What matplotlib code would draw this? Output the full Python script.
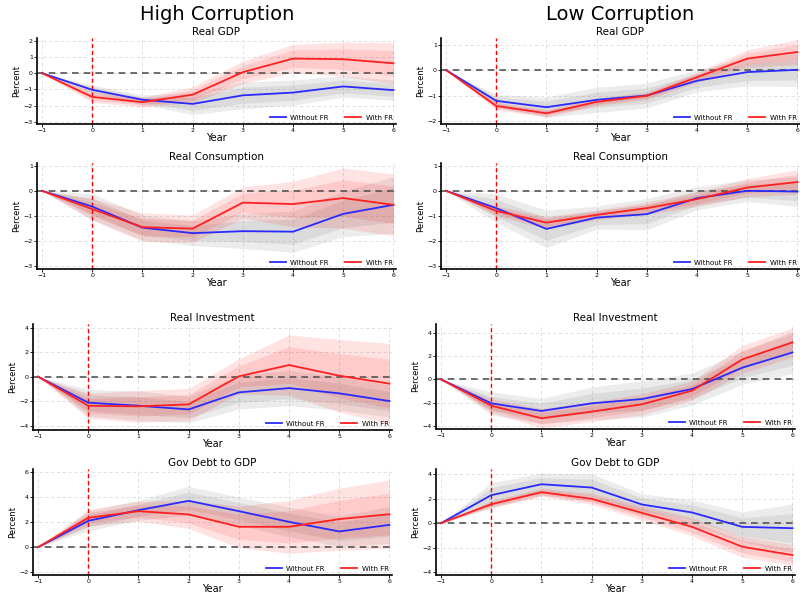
import numpy as np
import matplotlib
matplotlib.use("Agg")
import matplotlib.pyplot as plt

plt.rcParams['font.family'] = ['DejaVu Sans']

# horizon (years)
years = [-1, 0, 1, 2, 3, 4, 5, 6]

# High corruption: point estimates and standard errors
hc_gdp_wo = [0, -1.03, -1.64, -1.90, -1.37, -1.20, -0.82, -1.05]
hc_gdp_wo_se = [0, 0.18, 0.18, 0.40, 0.50, 0.47, 0.40, 0.38]
hc_gdp_w = [0, -1.47, -1.79, -1.33, 0.06, 0.90, 0.86, 0.61]
hc_gdp_w_se = [0, 0.20, 0.18, 0.30, 0.42, 0.53, 0.64, 0.78]

hc_cons_wo = [0, -0.63, -1.47, -1.69, -1.61, -1.63, -0.92, -0.56]
hc_cons_wo_se = [0, 0.32, 0.30, 0.30, 0.42, 0.50, 0.55, 0.69]
hc_cons_w = [0, -0.73, -1.45, -1.51, -0.47, -0.53, -0.29, -0.56]
hc_cons_w_se = [0, 0.26, 0.35, 0.33, 0.38, 0.55, 0.73, 0.75]

hc_inv_wo = [0, -2.12, -2.37, -2.67, -1.28, -0.93, -1.36, -1.99]
hc_inv_wo_se = [0, 0.66, 0.73, 0.66, 0.83, 0.87, 0.83, 0.79]
hc_inv_w = [0, -2.37, -2.42, -2.26, 0.03, 0.95, 0.08, -0.57]
hc_inv_w_se = [0, 0.62, 0.79, 0.79, 0.87, 1.50, 1.80, 2.00]

hc_debt_wo = [0, 2.09, 2.94, 3.68, 2.86, 2.01, 1.25, 1.77]
hc_debt_wo_se = [0, 0.48, 0.48, 0.70, 0.68, 0.72, 0.72, 0.89]
hc_debt_w = [0, 2.33, 2.86, 2.60, 1.62, 1.62, 2.23, 2.62]
hc_debt_w_se = [0, 0.40, 0.48, 0.68, 1.00, 1.28, 1.50, 1.65]

# Low corruption
lc_gdp_wo = [0, -1.21, -1.46, -1.17, -1.00, -0.42, -0.08, 0.01]
lc_gdp_wo_se = [0, 0.15, 0.24, 0.30, 0.30, 0.26, 0.33, 0.40]
lc_gdp_w = [0, -1.41, -1.70, -1.25, -1.01, -0.28, 0.45, 0.71]
lc_gdp_w_se = [0, 0.09, 0.09, 0.09, 0.09, 0.12, 0.21, 0.30]

lc_cons_wo = [0, -0.69, -1.52, -1.07, -0.93, -0.29, 0.0, -0.03]
lc_cons_wo_se = [0, 0.35, 0.45, 0.28, 0.38, 0.28, 0.26, 0.36]
lc_cons_w = [0, -0.80, -1.27, -0.96, -0.69, -0.33, 0.13, 0.35]
lc_cons_w_se = [0, 0.12, 0.15, 0.12, 0.15, 0.18, 0.22, 0.30]

lc_inv_wo = [0, -2.06, -2.71, -2.06, -1.69, -0.83, 1.00, 2.31]
lc_inv_wo_se = [0, 0.60, 0.65, 0.85, 0.95, 0.83, 0.87, 1.10]
lc_inv_w = [0, -2.26, -3.34, -2.77, -2.14, -0.97, 1.71, 3.17]
lc_inv_w_se = [0, 0.36, 0.50, 0.52, 0.55, 0.50, 0.73, 0.76]

lc_debt_wo = [0, 2.28, 3.17, 2.90, 1.52, 0.87, -0.30, -0.41]
lc_debt_wo_se = [0, 0.62, 0.55, 0.67, 0.53, 0.62, 0.74, 1.20]
lc_debt_w = [0, 1.54, 2.52, 1.98, 0.84, -0.30, -1.92, -2.60]
lc_debt_w_se = [0, 0.18, 0.21, 0.27, 0.36, 0.45, 0.52, 0.52]

W, H = 800, 593
fig = plt.figure(figsize=(8, 5.93), dpi=100)


def panel(px, top, bottom, title, wo, wo_se, w, w_se, ylim, yticks):
    x0, x1 = px
    ax = fig.add_axes([x0 / W, 1 - bottom / H, (x1 - x0) / W, (bottom - top) / H])
    x = np.array(years)
    for mean, se, col, a in [(wo, wo_se, 'grey', 0.15), (w, w_se, 'red', 0.11)]:
        m = np.array(mean)
        s = np.array(se)
        ax.fill_between(x, m - 1.645 * s, m + 1.645 * s, color=col, alpha=a, lw=0)
        ax.fill_between(x, m - s, m + s, color=col, alpha=a, lw=0)
    ax.axhline(0, color='#555555', lw=1.2, ls=(0, (4, 3)), zorder=1)
    ax.axvline(0, color='red', lw=1.0, ls=(0, (3, 2)), zorder=1)
    ax.plot(x, wo, color='#2a2aff', lw=1.3, label='Without FR', zorder=3)
    ax.plot(x, w, color='#ff2020', lw=1.3, label='With FR', zorder=3)
    ax.set_xlim(-1.1, 6.05)
    ax.set_ylim(*ylim)
    ax.set_xticks(years)
    ax.set_yticks(yticks)
    ax.grid(True, color='#dddddd', lw=0.6, ls=(0, (4, 3)))
    ax.set_axisbelow(True)
    for s in ['top', 'right']:
        ax.spines[s].set_visible(False)
    for s in ['left', 'bottom']:
        ax.spines[s].set_linewidth(1.2)
    ax.tick_params(labelsize=4.5, length=2, width=0.6, pad=1)
    ax.set_title(title, fontsize=7.5, pad=2)
    ax.set_xlabel('Year', fontsize=7, labelpad=0)
    ax.set_ylabel('Percent', fontsize=6, labelpad=2)
    ax.legend(loc='lower right', ncol=2, frameon=False, fontsize=5,
              handlelength=2.3, handletextpad=0.6, columnspacing=2.4,
              borderaxespad=0.1)
    return ax


L1, R1 = (37, 396), (441, 800)
L2, R2 = (33, 392), (436, 795)

panel(L1, 38, 124, 'Real GDP', hc_gdp_wo, hc_gdp_wo_se, hc_gdp_w, hc_gdp_w_se,
      (-3.14, 2.17), [-3, -2, -1, 0, 1, 2])
panel(R1, 38, 124, 'Real GDP', lc_gdp_wo, lc_gdp_wo_se, lc_gdp_w, lc_gdp_w_se,
      (-2.12, 1.26), [-2, -1, 0, 1])
panel(L1, 163, 269, 'Real Consumption', hc_cons_wo, hc_cons_wo_se, hc_cons_w, hc_cons_w_se,
      (-3.12, 1.11), [-3, -2, -1, 0, 1])
panel(R1, 163, 269, 'Real Consumption', lc_cons_wo, lc_cons_wo_se, lc_cons_w, lc_cons_w_se,
      (-3.12, 1.11), [-3, -2, -1, 0, 1])
panel(L2, 324, 430, 'Real Investment', hc_inv_wo, hc_inv_wo_se, hc_inv_w, hc_inv_w_se,
      (-4.35, 4.3), [-4, -2, 0, 2, 4])
panel(R2, 324, 429, 'Real Investment', lc_inv_wo, lc_inv_wo_se, lc_inv_w, lc_inv_w_se,
      (-4.26, 4.75), [-4, -2, 0, 2, 4])
panel(L2, 469, 575, 'Gov Debt to GDP', hc_debt_wo, hc_debt_wo_se, hc_debt_w, hc_debt_w_se,
      (-2.21, 6.21), [-2, 0, 2, 4, 6])
panel(R2, 469, 575, 'Gov Debt to GDP', lc_debt_wo, lc_debt_wo_se, lc_debt_w, lc_debt_w_se,
      (-4.22, 4.41), [-4, -2, 0, 2, 4])

fig.text(217 / W, 1 - 15 / H, 'High Corruption', fontsize=14, ha='center', va='center')
fig.text(620 / W, 1 - 15 / H, 'Low Corruption', fontsize=14, ha='center', va='center')

fig.savefig('out.png', dpi=100)
